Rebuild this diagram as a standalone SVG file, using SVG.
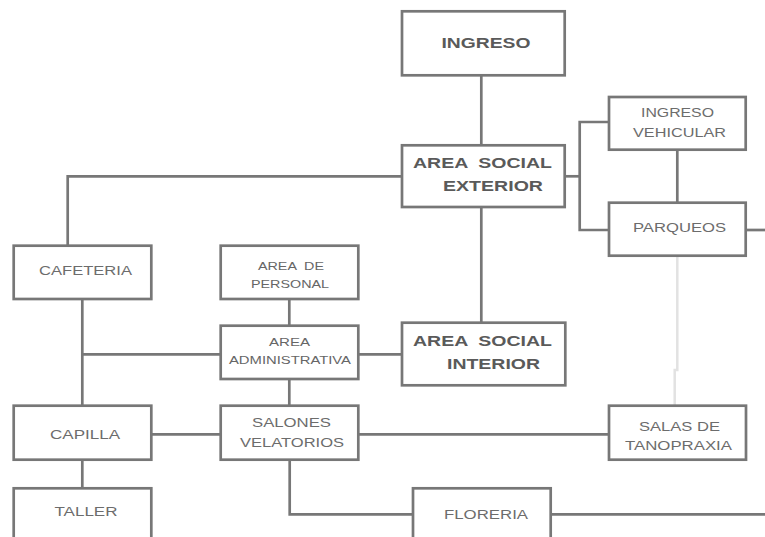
<svg xmlns="http://www.w3.org/2000/svg" width="765" height="537" viewBox="0 0 765 537">
<style>
.box{fill:#fff;stroke:#777;stroke-width:2.7}
.ln{fill:none;stroke:#777;stroke-width:2.7}
.lt{fill:none;stroke:#e2e2e2;stroke-width:2.5}
text{font-family:"Liberation Sans",Arial,sans-serif;text-anchor:middle;white-space:pre}
.b{font-size:15px;font-weight:bold;fill:#5a5a5a}
.s{font-size:12.5px;fill:#6c6c6c}
.m{font-size:11px;fill:#666}
.x{font-size:10px;fill:#666}
</style>
<rect width="765" height="537" fill="#fff"/>
<g id="connectors">
<line class="ln" x1="481.3" y1="75" x2="481.3" y2="145.5"/>
<line class="ln" x1="481.3" y1="207" x2="481.3" y2="322.7"/>
<polyline class="ln" points="402,176.3 67.7,176.3 67.7,245.7"/>
<line class="ln" x1="565" y1="176.3" x2="579.7" y2="176.3"/>
<polyline class="ln" points="609,122 579.7,122 579.7,230 609,230"/>
<line class="ln" x1="677.3" y1="149.7" x2="677.3" y2="202.7"/>
<line class="ln" x1="745.7" y1="230" x2="765" y2="230"/>
<polyline class="lt" points="677.3,255.7 677.3,370 674.7,370 674.7,405.7"/>
<line class="ln" x1="82.3" y1="299" x2="82.3" y2="405.7"/>
<line class="ln" x1="82.3" y1="354.3" x2="220.7" y2="354.3"/>
<line class="ln" x1="289.3" y1="299" x2="289.3" y2="325.7"/>
<line class="ln" x1="358.3" y1="354.3" x2="402" y2="354.3"/>
<line class="ln" x1="289.3" y1="379" x2="289.3" y2="405.7"/>
<line class="ln" x1="151.3" y1="434.3" x2="220.7" y2="434.3"/>
<line class="ln" x1="358.3" y1="434.3" x2="609" y2="434.3"/>
<line class="ln" x1="82.3" y1="459.7" x2="82.3" y2="488.3"/>
<polyline class="ln" points="289.7,459.7 289.7,514.3 413,514.3"/>
<line class="ln" x1="550.7" y1="514.3" x2="765" y2="514.3"/>
</g>
<g id="ingreso"><rect class="box" x="402" y="11.3" width="162.7" height="64"/><text class="b" x="486" y="48" textLength="89" lengthAdjust="spacingAndGlyphs">INGRESO</text></g>
<g id="area-social-exterior"><rect class="box" x="402" y="145.3" width="162.7" height="61.7"/><text class="b" x="482.5" y="167.5" textLength="139" lengthAdjust="spacingAndGlyphs" xml:space="preserve">AREA  SOCIAL</text><text class="b" x="493" y="190.5" textLength="100" lengthAdjust="spacingAndGlyphs">EXTERIOR</text></g>
<g id="ingreso-vehicular"><rect class="box" x="609" y="97" width="136.7" height="52.7"/><text class="s" x="677.5" y="117" textLength="73" lengthAdjust="spacingAndGlyphs">INGRESO</text><text class="s" x="679.5" y="136.5" textLength="93" lengthAdjust="spacingAndGlyphs">VEHICULAR</text></g>
<g id="parqueos"><rect class="box" x="609" y="202.7" width="136.7" height="53"/><text class="s" x="679.5" y="231.5" textLength="93" lengthAdjust="spacingAndGlyphs">PARQUEOS</text></g>
<g id="area-social-interior"><rect class="box" x="402" y="322.7" width="163.3" height="62.6"/><text class="b" x="482.5" y="345.5" textLength="139" lengthAdjust="spacingAndGlyphs" xml:space="preserve">AREA  SOCIAL</text><text class="b" x="493.5" y="368.5" textLength="93" lengthAdjust="spacingAndGlyphs">INTERIOR</text></g>
<g id="cafeteria"><rect class="box" x="13.7" y="245.7" width="137.6" height="53.3"/><text class="s" x="85.5" y="274.5" textLength="93" lengthAdjust="spacingAndGlyphs">CAFETERIA</text></g>
<g id="area-de-personal"><rect class="box" x="220.7" y="245.7" width="137.6" height="53.3"/><text class="m" x="291" y="269.5" textLength="66" lengthAdjust="spacingAndGlyphs" xml:space="preserve">AREA  DE</text><text class="m" x="290" y="287.5" textLength="78" lengthAdjust="spacingAndGlyphs">PERSONAL</text></g>
<g id="area-administrativa"><rect class="box" x="220.7" y="325.7" width="137.6" height="53.3"/><text class="x" x="289.5" y="345.5" textLength="41" lengthAdjust="spacingAndGlyphs">AREA</text><text class="x" x="290" y="363.5" textLength="122" lengthAdjust="spacingAndGlyphs">ADMINISTRATIVA</text></g>
<g id="capilla"><rect class="box" x="13.7" y="405.7" width="137.6" height="54"/><text class="s" x="85" y="438.5" textLength="70" lengthAdjust="spacingAndGlyphs">CAPILLA</text></g>
<g id="salones-velatorios"><rect class="box" x="220.7" y="405.7" width="137.6" height="54"/><text class="s" x="291.5" y="426.5" textLength="79" lengthAdjust="spacingAndGlyphs">SALONES</text><text class="s" x="292" y="446.5" textLength="104" lengthAdjust="spacingAndGlyphs">VELATORIOS</text></g>
<g id="salas-de-tanopraxia"><rect class="box" x="609" y="405.7" width="137" height="54"/><text class="s" x="679.5" y="430.5" textLength="81" lengthAdjust="spacingAndGlyphs">SALAS DE</text><text class="s" x="678.5" y="449.5" textLength="107" lengthAdjust="spacingAndGlyphs">TANOPRAXIA</text></g>
<g id="taller"><rect class="box" x="13.7" y="488.3" width="137.6" height="60"/><text class="s" x="86" y="515.5" textLength="63" lengthAdjust="spacingAndGlyphs">TALLER</text></g>
<g id="floreria"><rect class="box" x="413" y="488.3" width="137.7" height="60"/><text class="s" x="486" y="518.5" textLength="84" lengthAdjust="spacingAndGlyphs">FLORERIA</text></g>
</svg>
